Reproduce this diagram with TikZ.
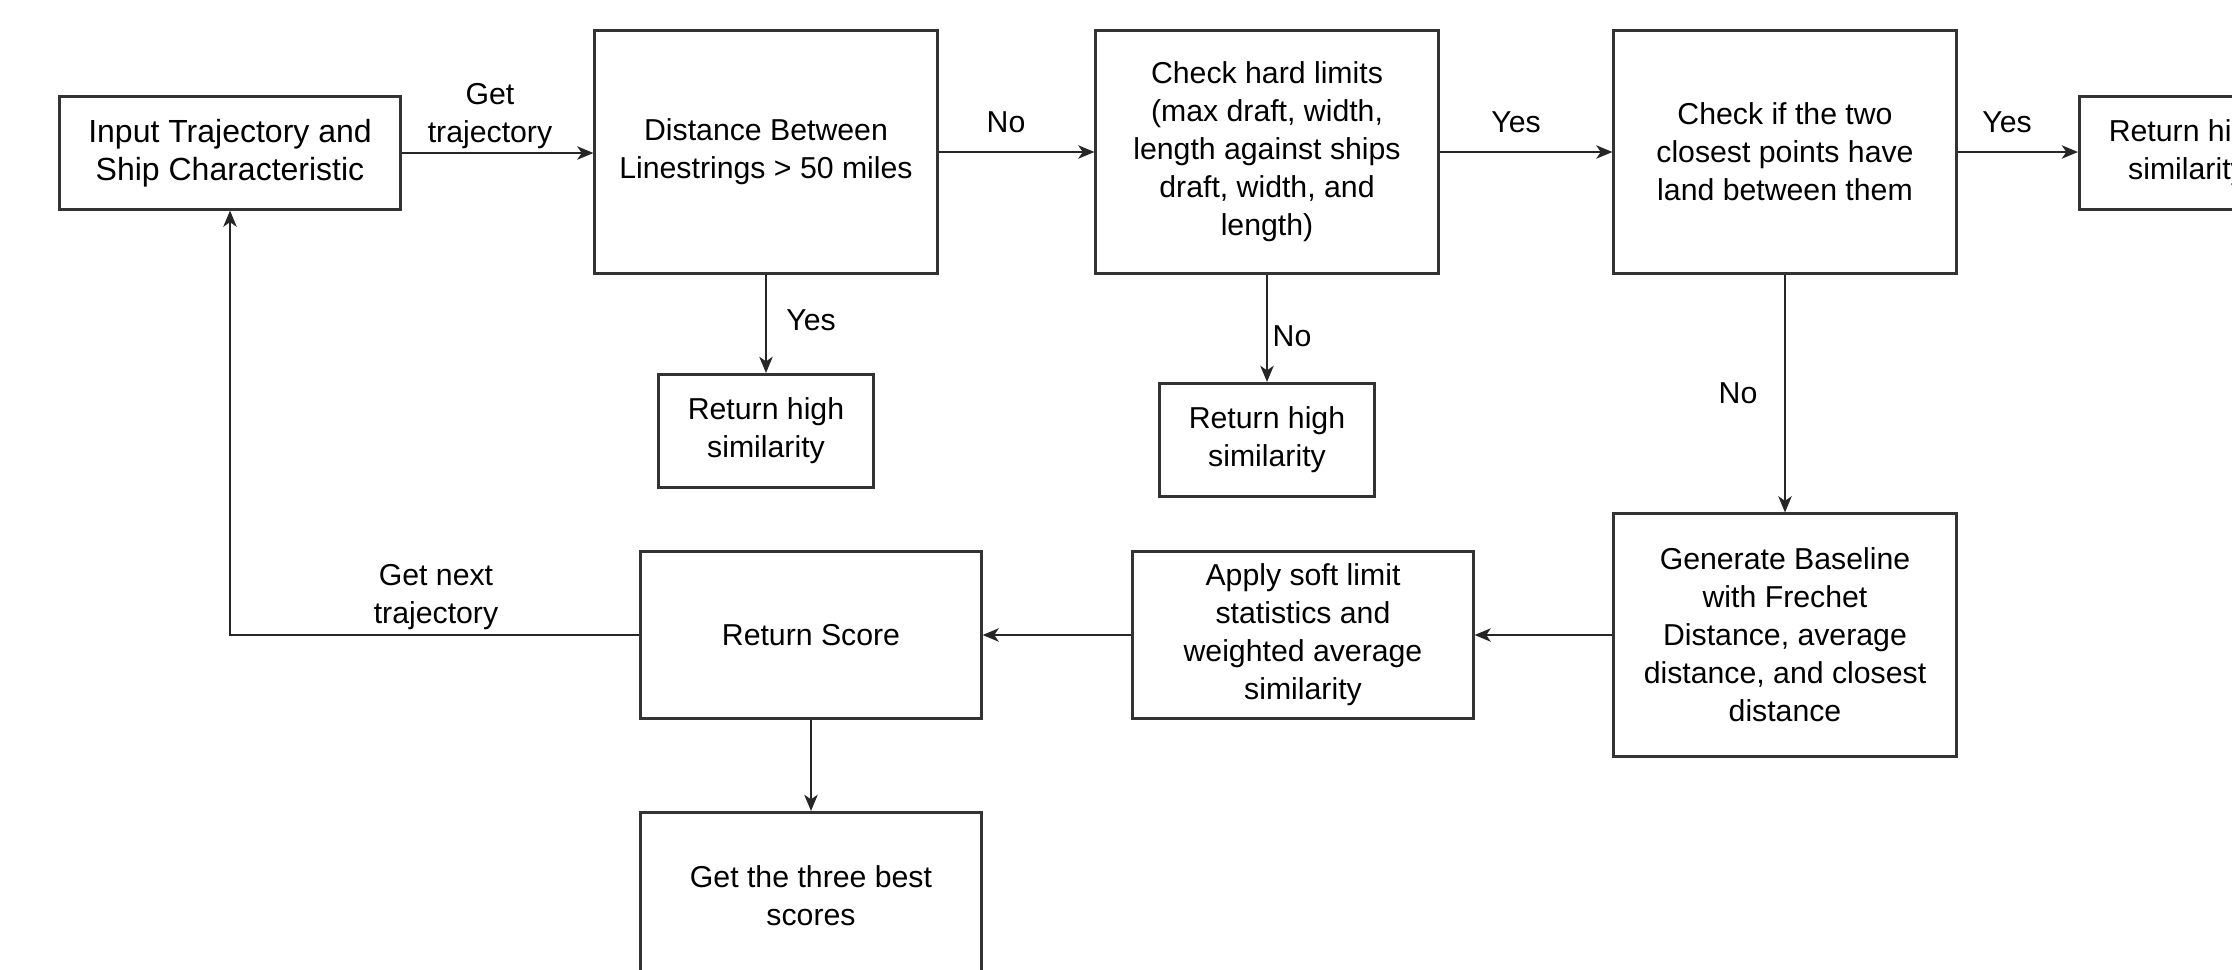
\documentclass[tikz,border=0pt]{standalone}
\usepackage{fontspec}
\setmainfont{Liberation Sans}
\usetikzlibrary{arrows.meta}
\begin{document}
\begin{tikzpicture}[x=0.01cm,y=-0.01cm,
  box/.style={draw=black!80,line width=0.85pt,fill=white,align=center,inner sep=0pt,
    font=\fontsize{8.6pt}{10.8pt}\selectfont},
  lbl/.style={align=center,inner sep=0pt,font=\fontsize{8.6pt}{10.8pt}\selectfont},
  conn/.style={draw=black!85,line width=0.6pt,-{Stealth[length=4.6pt,width=3.8pt,inset=1.3pt]}},
  plain/.style={draw=black!85,line width=0.6pt}]
\clip (0,0) rectangle (2232,969);
\fill[white] (0,0) rectangle (2232,969);
% nodes
\node[box,minimum width=3.40cm,minimum height=1.12cm,font=\fontsize{9.1pt}{10.8pt}\selectfont] (in) at (230,153) {Input Trajectory and\\Ship Characteristic};
\node[box,minimum width=3.42cm,minimum height=2.42cm] (dist) at (766,152) {Distance Between\\Linestrings > 50 miles};
\node[box,minimum width=2.15cm,minimum height=1.13cm] (ret1) at (766,431) {Return high\\similarity};
\node[box,minimum width=3.42cm,minimum height=2.42cm] (hard) at (1267,152) {Check hard limits\\(max draft, width,\\length against ships\\draft, width, and\\length)};
\node[box,minimum width=2.15cm,minimum height=1.13cm] (ret2) at (1267,440) {Return high\\similarity};
\node[box,minimum width=3.42cm,minimum height=2.42cm] (two) at (1785,152) {Check if the two\\closest points have\\land between them};
\node[box,minimum width=2.15cm,minimum height=1.12cm] (ret3) at (2187,153) {Return high\\similarity};
\node[box,minimum width=3.42cm,minimum height=2.42cm] (gen) at (1785,635) {Generate Baseline\\with Frechet\\Distance, average\\distance, and closest\\distance};
\node[box,minimum width=3.40cm,minimum height=1.67cm] (apply) at (1303,635) {Apply soft limit\\statistics and\\weighted average\\similarity};
\node[box,minimum width=3.40cm,minimum height=1.67cm] (score) at (811,635) {Return Score};
\node[box,minimum width=3.40cm,minimum height=1.67cm] (best) at (811,896) {Get the three best\\scores};
% connectors
\draw[conn] (in.east) -- (in.east -| dist.west);
\draw[conn] (dist) -- (hard);
\draw[conn] (hard) -- (two);
\draw[conn] (two.east) -- (two.east -| ret3.west);
\draw[conn] (dist.south) -- (ret1.north);
\draw[conn] (hard.south) -- (ret2.north);
\draw[conn] (two.south) -- (gen.north);
\draw[conn] (gen) -- (apply);
\draw[conn] (apply) -- (score);
\draw[conn] (score.west) -| (in.south);
\draw[conn] (score.south) -- (best.north);
% labels
\node[lbl] (l1) at (490,116) {Get\\trajectory};
\node[lbl] (l2) at (1006,122) {No};
\node[lbl] (l3) at (1516,122) {Yes};
\node[lbl] (l4) at (2007,122) {Yes};
\node[lbl] (l5) at (811,320) {Yes};
\node[lbl] (l6) at (1292,336) {No};
\node[lbl] (l7) at (1738,393) {No};
\node[lbl] (l8) at (436,597) {Get next\\trajectory};
\end{tikzpicture}
\end{document}
